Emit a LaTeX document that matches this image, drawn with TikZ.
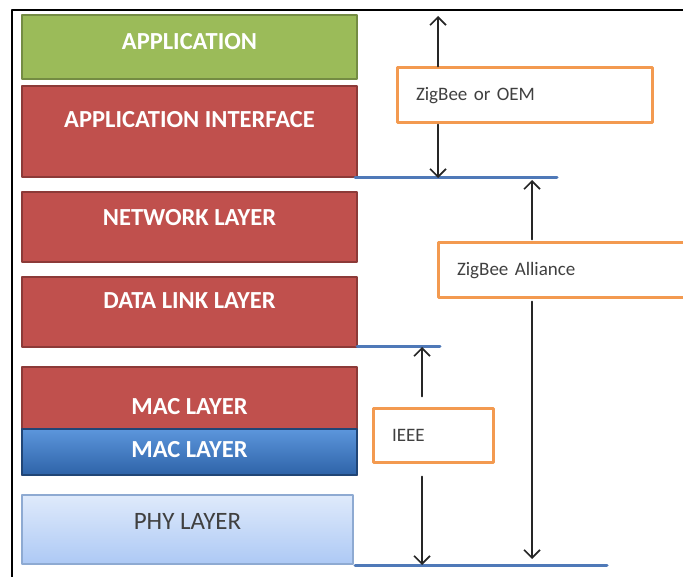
\documentclass[tikz,border=0pt]{standalone}
\usepackage{fontspec}
\setmainfont{Carlito}
\usetikzlibrary{arrows.meta,positioning}

\definecolor{appgreen}{HTML}{9BBB59}
\definecolor{layred}{HTML}{C0504D}
\definecolor{layborder}{HTML}{8C3A38}
\definecolor{mactop}{HTML}{5C96DC}
\definecolor{macbot}{HTML}{2E63A8}
\definecolor{phytop}{HTML}{DFEAFB}
\definecolor{phybot}{HTML}{ADC9F5}
\definecolor{phyborder}{HTML}{8EAAD2}
\definecolor{tagorange}{HTML}{F39A50}
\definecolor{tagtext}{HTML}{404040}
\definecolor{barblue}{HTML}{4F79B8}

\begin{document}
\begin{tikzpicture}[x=1pt, y=-1pt, line join=round, line cap=round, >={Straight Barb[length=8pt, width=16pt]},
	layer/.style={minimum width=335pt, minimum height=70pt, inner sep=0pt, line width=1.2pt},
	redlayer/.style={layer, draw=layborder, fill=layred},
	caption/.style={text=white, inner sep=0pt, font=\fontsize{24.5}{24.5}\selectfont\bfseries},
	tag/.style={draw=tagorange, line width=3pt, fill=white, minimum height=55pt, inner xsep=19pt, inner ysep=0pt, align=left, text=tagtext, font=\fontsize{19}{19}\selectfont},
	bar/.style={draw=barblue, line width=3pt},
	dim/.style={draw=black!85, line width=1.6pt}]
	% Khung
	\useasboundingbox (0,0) rectangle (683,577);
	\clip (0,0) rectangle (683,577);
	\draw[line width=2pt] (12,590)--(12,10)--(690,10);
	
	% Cac lop
	\node[layer, draw=appgreen!75!black, fill=appgreen, minimum height=64pt] (app) at (189.5,47) {};
	\node[redlayer, minimum height=91pt] (appif) at (189.5,131.5) {};
	\node[redlayer] (net) at (189.5,227) {};
	\node[redlayer] (dll) at (189.5,312) {};
	\node[redlayer, minimum height=108pt] (mac) at (189.5,421) {};
	\node[layer, draw=macbot!70!black, top color=mactop, bottom color=macbot, minimum height=46pt] (macb) at (189.5,452) {};
	\node[layer, draw=phyborder, top color=phytop, bottom color=phybot, minimum width=331pt, minimum height=69pt] (phy) at (187.5,529.5) {};
	
	% Chu trong cac lop
	\node[caption] (apptxt) at ([yshift=5pt]app.center) {APPLICATION};
	\node[caption] (appiftxt) at ([yshift=11.5pt]appif.center) {APPLICATION INTERFACE};
	\node[caption] (nettxt) at ([yshift=9pt]net.center) {NETWORK LAYER};
	\node[caption] (dlltxt) at ([yshift=11pt]dll.center) {DATA LINK LAYER};
	\node[caption] (mactxt) at ([yshift=14pt]mac.center) {MAC LAYER};
	\node[caption] (macbtxt) at ([yshift=2pt]macb.center) {MAC LAYER};
	\node[caption, text=tagtext, font=\fontsize{25}{25}\selectfont] (phytxt) at ([yshift=8.5pt]phy.center) {PHY LAYER};
	
	% Duong ranh gioi
	\foreach \n/\y/\xa/\xb in {l1/178/355/557, l2/347/357/440, l3/565/355/607}{
		\coordinate (\n a) at (\xa,\y);
		\coordinate (\n b) at (\xb,\y);
		\draw[bar] (\n a)--(\n b);
	}
	
	% Nhan
	\node[tag, text width=217pt] (oem) at (524.5,95.5) {ZigBee or OEM};
	\node[tag, text width=224pt] (zba) at (569,270.5) {ZigBee Alliance};
	\node[tag, text width=82pt, minimum height=54pt] (ieee) at (433,435) {IEEE};
	
	% Mui ten
	\coordinate (topend) at (438,16);
	\coordinate (allx) at (532,0);
	\coordinate (ieeex) at (422,0);
	\draw[dim,->] (oem.north -| topend)--(topend);
	\draw[dim,->] (oem.south -| topend)--(topend |- l1a);
	\draw[dim,->, shorten >=2pt, shorten <=2pt] (zba.north -| allx)--(allx |- l1a);
	\draw[dim,->, shorten >=6pt, shorten <=2pt] (zba.south -| allx)--(allx |- l3a);
	\draw[dim,->, shorten <=10pt] (ieee.north -| ieeex)--(ieeex |- l2a);
	\draw[dim,->, shorten <=13pt] (ieee.south -| ieeex)--(ieeex |- l3a);
\end{tikzpicture}
\end{document}
